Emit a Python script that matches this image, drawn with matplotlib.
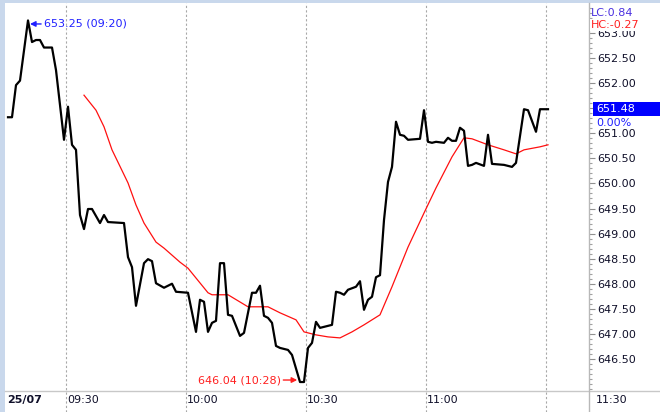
import matplotlib.pyplot as plt
from matplotlib.lines import Line2D
from matplotlib.patches import Rectangle
from matplotlib.transforms import blended_transform_factory
from matplotlib.ticker import MultipleLocator

# minutes after 09:15 / last price of the minute
t_close = [0, 1, 2, 3, 5, 6, 7, 8, 9, 11, 12, 14, 15, 16, 17, 18, 19, 20, 21, 23,
           24, 25, 29, 30, 31, 32, 34, 35, 36, 37, 39, 41, 42, 45, 47, 48, 49, 50, 51, 52,
           53, 54, 55, 56, 58, 59, 61, 62, 63, 64, 65, 66, 67, 68, 70, 71, 73, 74, 75, 76,
           77, 78, 81, 82, 83, 84, 85, 87, 88, 89, 90, 91, 92, 93, 94, 95, 96, 97, 98, 99,
           100, 103, 104, 105, 106, 107, 109, 110, 111, 112, 113, 114, 115, 116, 117, 119, 120, 121, 124, 126,
           127, 129, 130, 132, 133, 135]
close = [651.32, 651.32, 651.96, 652.05, 653.25, 652.82, 652.86, 652.86, 652.71, 652.71,
         652.26, 650.87, 651.53, 650.77, 650.67, 649.37, 649.09, 649.49, 649.49, 649.21,
         649.37, 649.23, 649.21, 648.53, 648.33, 647.56, 648.41, 648.49, 648.45, 648.01,
         647.92, 648.00, 647.84, 647.82, 647.04, 647.68, 647.64, 647.04, 647.22, 647.26,
         648.41, 648.41, 647.38, 647.36, 646.96, 647.02, 647.82, 647.82, 647.96, 647.36,
         647.32, 647.22, 646.76, 646.72, 646.68, 646.58, 646.04, 646.04, 646.72, 646.82,
         647.24, 647.12, 647.18, 647.84, 647.82, 647.78, 647.88, 647.94, 648.05, 647.48,
         647.68, 647.74, 648.13, 648.17, 649.27, 650.03, 650.33, 651.23, 650.97, 650.95,
         650.87, 650.89, 651.46, 650.83, 650.81, 650.83, 650.81, 650.91, 650.85, 650.85,
         651.11, 651.05, 650.35, 650.37, 650.41, 650.35, 650.97, 650.39, 650.37, 650.33,
         650.41, 651.48, 651.46, 651.03, 651.48, 651.48]

# moving average (red)
t_ma = [19, 22, 24, 26, 30, 32, 34, 37, 39, 43, 45, 50, 51, 55, 60, 65, 68, 72, 74, 77,
        80, 83, 86, 89, 93, 96, 100, 104, 107, 111, 114, 116, 120, 124, 127, 129, 133, 135]
ma = [651.76, 651.46, 651.13, 650.67, 650.01, 649.57, 649.21, 648.83, 648.71, 648.43,
      648.31, 647.82, 647.78, 647.78, 647.54, 647.54, 647.42, 647.28, 647.04, 646.98,
      646.94, 646.92, 647.04, 647.18, 647.38, 647.94, 648.73, 649.41, 649.91, 650.53,
      650.91, 650.89, 650.77, 650.67, 650.59, 650.67, 650.73, 650.77]

time_ticks = [15, 45, 75, 105, 135]
time_labels = ["09:30", "10:00", "10:30", "11:00", "11:30"]
date_label = "25/07"
price_ticks = [646.5 + 0.5 * k for k in range(14)]

hi_t, hi_p, hi_txt = 5, 653.25, "653.25 (09:20)"
lo_t, lo_p, lo_txt = 73, 646.04, "646.04 (10:28)"
last_price = 651.48
lc_txt, hc_txt, pct_txt = "LC:0.84", "HC:-0.27", "0.00%"

W, H = 660, 412
fig = plt.figure(figsize=(W / 100, H / 100), dpi=100)
fig.patch.set_facecolor('white')

def fx(px):
    return px / W

def fy(py):
    return 1 - py / H

ax = fig.add_axes([fx(6), fy(391), fx(589) - fx(6), fy(3) - fy(391)])
ax.set_xlim(0, 145.75)
ax.set_ylim(645.861, 653.598)

# lignes (centre de la minute)
ax.plot([t + 0.5 for t in t_close], close, color='black', lw=1.6, zorder=3)
ax.plot([t + 0.5 for t in t_ma], ma, color='#ff1010', lw=0.9, zorder=2)

# grille verticale pointillée, prolongée jusqu'en bas
for t in time_ticks:
    ax.axvline(t, ymin=-21 / 388, ymax=1, color='#a8a8a8', lw=0.8,
               ls=(0, (2, 2)), clip_on=False, zorder=1)

for s in ax.spines.values():
    s.set_visible(False)

ax.set_xticks([])
ax.yaxis.tick_right()
ax.set_yticks(price_ticks)
ax.set_yticklabels([f"{p:.2f}" for p in price_ticks])
ax.yaxis.set_minor_locator(MultipleLocator(0.1))
ax.tick_params(axis='y', which='major', length=4, width=0.8, color='#909090',
               pad=2, labelsize=8, labelcolor='#10102a')
ax.tick_params(axis='y', which='minor', length=2, width=0.8, color='#a0a0a0')

# étiquettes de temps
bt = blended_transform_factory(ax.transData, fig.transFigure)
for t, lab in zip(time_ticks[:-1], time_labels[:-1]):
    ax.text(t + 0.3, fy(400), lab, transform=bt, ha='left', va='center',
            fontsize=8, color='#10102a')
fig.text(fx(596), fy(400), time_labels[-1], ha='left', va='center',
         fontsize=8, color='#10102a')
fig.text(fx(7), fy(400), date_label, ha='left', va='center', fontsize=8,
         fontweight='bold', color='#10102a')

# bordures
fig.patches.append(Rectangle((0, 0), fx(5), 1, transform=fig.transFigure,
                             facecolor='#c9d8ec', edgecolor='none', zorder=0))
fig.patches.append(Rectangle((0, fy(2.5)), 1, fx(1) * 0 + 2.5 / H, transform=fig.transFigure,
                             facecolor='#c9d8ec', edgecolor='none', zorder=0))
fig.lines.append(Line2D([fx(5), 1], [fy(391), fy(391)], transform=fig.transFigure,
                        color='#c8c8c8', lw=1))
fig.lines.append(Line2D([fx(589), fx(589)], [0, fy(2.5)], transform=fig.transFigure,
                        color='#b8b8b8', lw=1))

# annotations haut / bas
ax.annotate(hi_txt, xy=(hi_t + 1.0, hi_p - 0.07), xytext=(10, 0),
            textcoords='offset points', ha='left', va='center', fontsize=8,
            color='#2020ff',
            arrowprops=dict(arrowstyle='-|>', color='#2020ff', lw=1,
                            shrinkA=0, shrinkB=0, mutation_scale=8))
ax.annotate(lo_txt, xy=(lo_t - 0.2, lo_p + 0.04), xytext=(-12, 0),
            textcoords='offset points', ha='right', va='center', fontsize=8,
            color='#ff2020',
            arrowprops=dict(arrowstyle='-|>', color='#ff2020', lw=1,
                            shrinkA=0, shrinkB=0, mutation_scale=8))

# dernier prix
fig.canvas.draw()
y_last = ax.transData.transform((0, last_price))[1] / fig.dpi / fig.get_figheight()
fig.patches.append(Rectangle((fx(593), y_last - 7 / H), fx(67), 14 / H,
                             transform=fig.transFigure, facecolor='#0000ff',
                             edgecolor='none', zorder=5))
fig.text(fx(596), y_last, f"{last_price:.2f}", ha='left', va='center',
         fontsize=8, color='white', zorder=6)
fig.text(fx(596), y_last - 14 / H, pct_txt, ha='left', va='center',
         fontsize=8, color='#2020ff', zorder=6)

fig.text(fx(591), fy(13), lc_txt, ha='left', va='center', fontsize=8,
         color='#4a30e0', zorder=6)
fig.text(fx(591), fy(25), hc_txt, ha='left', va='center', fontsize=8,
         color='#ff2020', zorder=6,
         bbox=dict(boxstyle='square,pad=0.05', facecolor='white', edgecolor='none'))

plt.savefig('out.png', dpi=100)
plt.close()
